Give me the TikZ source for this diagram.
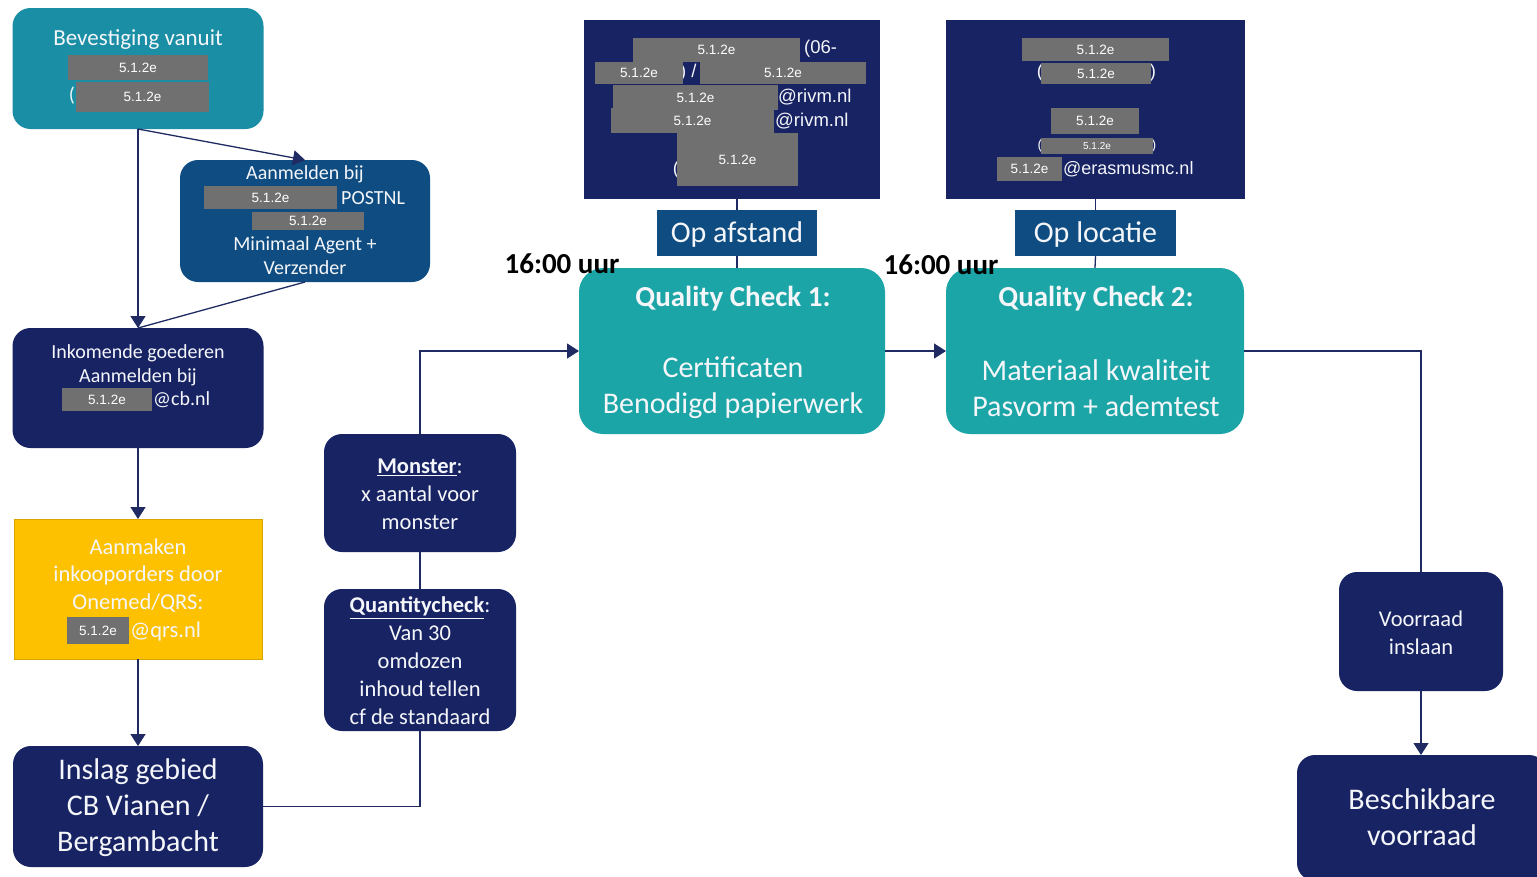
\documentclass[tikz,border=0pt]{standalone}
\usepackage{fontspec}
\setmainfont{Carlito}
\newfontfamily\arialf{Liberation Sans}
\usetikzlibrary{arrows.meta}
\definecolor{navy}{HTML}{172363}
\definecolor{lnavy}{HTML}{1F2B62}
\definecolor{tealA}{HTML}{1A8EA5}
\definecolor{blueB}{HTML}{0F4C81}
\definecolor{tealQ}{HTML}{1BA5A6}
\definecolor{gold}{HTML}{FDC100}
\definecolor{redg}{HTML}{707070}
\definecolor{wtxt}{HTML}{F4F6FA}
\newcommand{\rdbox}[6][13.5]{%
  \fill[redg] (#3,#4) rectangle (#5,#6);
  \node[rtxt,font=\arialf\fontsize{#1}{#1}\selectfont] (#2) at ({(#3+#5)/2},{(#4+#6)/2}) {5.1.2e};}
\begin{document}
\begin{tikzpicture}[x=1pt,y=-1pt,
  box/.style={rounded corners=18pt,inner sep=0pt,outer sep=0pt},
  sbox/.style={inner sep=0pt,outer sep=0pt},
  wt/.style={text=wtxt,inner sep=0pt,anchor=center,align=center},
  rtxt/.style={text=white,inner sep=0pt,anchor=center},
  line/.style={draw=lnavy,line width=1.3pt},
  arr/.style={line,-{Triangle[width=15pt,length=12pt]}},
  t20/.style={font=\fontsize{20}{23.5}\selectfont},
  t22/.style={font=\fontsize{22.5}{28}\selectfont},
  t30/.style={font=\fontsize{30}{36}\selectfont},
  a18/.style={font=\arialf\fontsize{18.5}{18.5}\selectfont}
]
\clip (0,0) rectangle (1537,876);
\fill[white] (0,0) rectangle (1537,876);

% ---------- boxes ----------
\node[box,fill=tealA,minimum width=251pt,minimum height=121pt] (bev) at (138,68.5) {};
\node[box,fill=blueB,minimum width=250pt,minimum height=122pt] (aan) at (305,221) {};
\node[box,fill=navy,minimum width=251pt,minimum height=120pt] (ink) at (138,388) {};
\node[sbox,fill=gold,draw=gold!85!black,line width=0.6pt,minimum width=248pt,minimum height=140pt] (aanm) at (138,589) {};
\node[box,fill=navy,minimum width=250pt,minimum height=121pt] (insl) at (138,806.5) {};
\node[box,fill=navy,minimum width=192pt,minimum height=118pt] (mon) at (420,493) {};
\node[box,fill=navy,minimum width=192pt,minimum height=142pt] (qc) at (420,660) {};
\node[box,rounded corners=24pt,fill=tealQ,minimum width=306pt,minimum height=166pt] (qc1) at (732,351) {};
\node[box,rounded corners=24pt,fill=tealQ,minimum width=298pt,minimum height=166pt] (qc2) at (1095,351) {};
\node[sbox,fill=navy,minimum width=296pt,minimum height=179pt] (top1) at (732,109.5) {};
\node[sbox,fill=navy,minimum width=299pt,minimum height=179pt] (top2) at (1095.5,109.5) {};
\node[sbox,fill=blueB,minimum width=160pt,minimum height=46pt] (opa) at (737,233) {};
\node[sbox,fill=blueB,minimum width=161pt,minimum height=46pt] (opl) at (1095.5,233) {};
\node[box,fill=navy,minimum width=164pt,minimum height=119pt] (voor) at (1421,631.5) {};
\node[box,fill=navy,minimum width=250pt,minimum height=126pt] (besch) at (1422,818) {};

% ---------- connectors ----------
\draw[line] (aan.south) -- (ink.north);
\draw[arr] (bev.south) -- (ink.north);
\draw[arr] (bev.south) -- (aan.north);
\draw[arr] (ink.south) -- (aanm.north);
\draw[arr] (aanm.south) -- (insl.north);
\draw[line] (insl.east) -| (qc.south);
\draw[line] (qc.north) -- (mon.south);
\draw[arr] (mon.north) |- (qc1.west);
\draw[arr] (qc1.east) -- (qc2.west);
\draw[line] (qc2.east) -| (voor.north);
\draw[arr] (voor.south) -- (voor.south |- besch.north);
\draw[line] (top1.south -| opa.north) -- (opa.north);
\draw[line] (opa.south) -- (opa.south |- qc1.north);
\draw[line] (top2.south) -- (opl.north);
\draw[line] (opl.south) -- (qc2.north);

% ---------- Bevestiging ----------
\node[wt,font=\fontsize{23}{26}\selectfont] (bevT) at (138,40) {Bevestiging vanuit};
\rdbox{bevR1}{68}{55}{208}{80}
\node[wt,t20] (bevP) at (72,96) {(};
\rdbox{bevR2}{76}{82}{209}{112}

% ---------- Aanmelden POSTNL ----------
\node[wt,t20] (aanT1) at (305,174) {Aanmelden bij};
\rdbox{aanR1}{204}{186}{337}{209}
\node[wt,t20,anchor=west] (aanP) at (341,198) {POSTNL};
\rdbox{aanR2}{252}{212}{364}{230}
\node[wt,t20] (aanT2) at (305,245) {Minimaal Agent +};
\node[wt,t20] (aanT3) at (305,268) {Verzender};

% ---------- Inkomende ----------
\node[wt,t20] (inkT1) at (138,353) {Inkomende goederen};
\node[wt,t20] (inkT2) at (138,377) {Aanmelden bij};
\rdbox{inkR}{62}{388}{152}{411}
\node[wt,t20,anchor=west] (inkM) at (153,400) {@cb.nl};

% ---------- Aanmaken ----------
\node[wt,t22] (amT1) at (138,547) {Aanmaken};
\node[wt,t22] (amT2) at (138,575) {inkooporders door};
\node[wt,t22] (amT3) at (138,603) {Onemed/QRS:};
\rdbox{amR}{67}{617}{129}{644}
\node[wt,t22,anchor=west] (amM) at (130,631) {@qrs.nl};

% ---------- Inslag ----------
\node[wt,t30] (inslT) at (138,808) {Inslag gebied\\CB Vianen /\\Bergambacht};

% ---------- Monster / Quantitycheck ----------
\node[wt,t22] (monT) at (420,494) {\underline{\textbf{Monster}}:\\x aantal voor\\monster};
\node[wt,t22] (qcT) at (420,661) {\underline{\textbf{Quantitycheck}}:\\Van 30\\omdozen\\inhoud tellen\\cf de standaard};

% ---------- Quality checks ----------
\node[wt,font=\bfseries\fontsize{29}{30}\selectfont] (qc1T) at (733,299) {Quality Check 1:};
\node[wt,t30] (qc1B) at (733,388) {Certificaten\\Benodigd papierwerk};
\node[wt,font=\bfseries\fontsize{29}{30}\selectfont] (qc2T) at (1096,299) {Quality Check 2:};
\node[wt,t30] (qc2B) at (1096,388) {Materiaal kwaliteit\\Pasvorm + ademtest};

\node[wt,t30] (opaT) at (737,234) {Op afstand};
\node[wt,t30] (oplT) at (1095.5,234) {Op locatie};

\node[inner sep=0pt,font=\bfseries\fontsize{29}{29}\selectfont,text=black] (t1600a) at (562,264) {16:00 uur};
\node[inner sep=0pt,font=\bfseries\fontsize{29}{29}\selectfont,text=black] (t1600b) at (941,265) {16:00 uur};

% ---------- top box 1 ----------
\rdbox{t1R1}{633}{38}{800}{62}
\node[wt,a18,anchor=west] (t1a) at (804,49) {(06-};
\node[wt,a18,anchor=west] (t1s) at (680,73) {) /};
\rdbox{t1R2}{595}{62}{683}{84}
\rdbox{t1R3}{700}{62}{866}{84}
\rdbox{t1R4}{613}{85}{778}{110}
\node[wt,a18,anchor=west] (t1m1) at (778,97) {@rivm.nl};
\rdbox{t1R5}{611}{108}{774}{133}
\node[wt,a18,anchor=west] (t1m2) at (775,121) {@rivm.nl};
\node[wt,a18] (t1p) at (676,170) {(};
\rdbox{t1R6}{677}{133}{798}{186}

% ---------- top box 2 ----------
\rdbox{t2R1}{1022}{38}{1169}{61}
\node[wt,a18] (t2p1) at (1040,73) {(};
\node[wt,a18] (t2p2) at (1153,73) {)};
\rdbox{t2R2}{1041}{63}{1151}{84}
\rdbox{t2R3}{1051}{108}{1139}{134}
\node[wt,font=\arialf\fontsize{14}{14}\selectfont] (t2p3) at (1040,146) {(};
\node[wt,font=\arialf\fontsize{14}{14}\selectfont] (t2p4) at (1154,146) {)};
\rdbox[10]{t2R4}{1041}{138}{1153}{154}
\rdbox{t2R5}{997}{157}{1062}{181}
\node[wt,font=\arialf\fontsize{18}{18}\selectfont,anchor=west] (t2m) at (1063,169) {@erasmusmc.nl};

% ---------- Voorraad ----------
\node[wt,t22] (voorT) at (1421,633) {Voorraad\\inslaan};
\node[wt,t30] (beschT) at (1422,817) {Beschikbare\\voorraad};
\end{tikzpicture}
\end{document}
